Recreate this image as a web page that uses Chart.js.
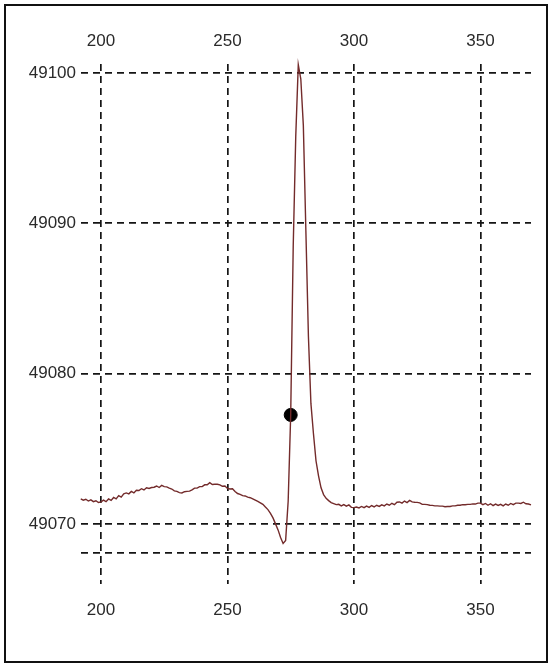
<!DOCTYPE html>
<html>
<head>
<meta charset="utf-8">
<script src="https://cdn.jsdelivr.net/npm/chart.js@4"></script>
<style>
    body { margin: 0; background: #fff; }
    #wrap { position: relative; width: 549px; height: 664px; }
    #frame { position: absolute; left: 4px; top: 4px; width: 540px; height: 655px; border: 2px solid #111; }
    canvas { position: absolute; left: 0; top: 0; }
</style>
</head>
<body>
<div id="wrap">
    <div id="frame"></div>
    <canvas id="myChart" width="549" height="664"></canvas>
</div>
<script>
// Sample positions (x) and measured values (y)
const sampleX = [
    192, 193, 194, 195, 196, 197, 198, 199, 200,
    201, 202, 203, 204, 205, 206, 207, 208, 209, 210,
    211, 212, 213, 214, 215, 216, 217, 218, 219, 220,
    221, 222, 223, 224, 225, 226, 227, 228, 229, 230,
    231, 232, 233, 234, 235, 236, 237, 238, 239, 240,
    241, 242, 243, 244, 245, 246, 247, 248, 249, 250,
    251, 252, 253, 254, 255, 256, 257, 258, 259, 260,
    261, 262, 263, 264, 265, 266, 267, 268, 269, 270,
    271, 272, 273, 274, 275, 276, 277, 278, 279, 280,
    281, 282, 283, 284, 285, 286, 287, 288, 289, 290,
    291, 292, 293, 294, 295, 296, 297, 298, 299, 300,
    301, 302, 303, 304, 305, 306, 307, 308, 309, 310,
    311, 312, 313, 314, 315, 316, 317, 318, 319, 320,
    321, 322, 323, 324, 325, 326, 327, 328, 329, 330,
    331, 332, 333, 334, 335, 336, 337, 338, 339, 340,
    341, 342, 343, 344, 345, 346, 347, 348, 349, 350,
    351, 352, 353, 354, 355, 356, 357, 358, 359, 360,
    361, 362, 363, 364, 365, 366, 367, 368, 369, 370
];
const sampleY = [
    49071.66, 49071.58, 49071.64, 49071.52, 49071.60, 49071.48, 49071.54, 49071.42, 49071.46,
    49071.58, 49071.48, 49071.66, 49071.56, 49071.76, 49071.66, 49071.88, 49071.78, 49072.00, 49072.06,
    49072.00, 49072.16, 49072.06, 49072.24, 49072.22, 49072.34, 49072.26, 49072.40, 49072.36, 49072.42,
    49072.44, 49072.52, 49072.42, 49072.56, 49072.48, 49072.46, 49072.38, 49072.32, 49072.20, 49072.16,
    49072.08, 49072.06, 49072.14, 49072.16, 49072.18, 49072.26, 49072.38, 49072.38, 49072.48, 49072.48,
    49072.60, 49072.60, 49072.74, 49072.62, 49072.64, 49072.64, 49072.60, 49072.50, 49072.52, 49072.36,
    49072.32, 49072.34, 49072.16, 49072.02, 49071.96, 49071.88, 49071.86, 49071.78, 49071.74, 49071.66,
    49071.58, 49071.50, 49071.40, 49071.30, 49071.12, 49070.95, 49070.70, 49070.40, 49070.00, 49069.60,
    49069.10, 49068.70, 49068.90, 49071.50, 49077.25, 49088.50, 49095.80, 49100.55, 49099.60, 49096.50,
    49089.50, 49082.50, 49078.00, 49076.00, 49074.20, 49073.20, 49072.40, 49071.95, 49071.70, 49071.55,
    49071.42, 49071.35, 49071.28, 49071.30, 49071.20, 49071.28, 49071.18, 49071.26, 49071.10, 49071.08,
    49071.12, 49071.06, 49071.16, 49071.08, 49071.18, 49071.10, 49071.22, 49071.13, 49071.24, 49071.16,
    49071.27, 49071.20, 49071.32, 49071.24, 49071.37, 49071.28, 49071.44, 49071.46, 49071.38, 49071.52,
    49071.42, 49071.56, 49071.46, 49071.44, 49071.43, 49071.40, 49071.30, 49071.30, 49071.28, 49071.24,
    49071.23, 49071.20, 49071.20, 49071.18, 49071.18, 49071.14, 49071.16, 49071.16, 49071.20, 49071.20,
    49071.24, 49071.24, 49071.28, 49071.27, 49071.30, 49071.30, 49071.33, 49071.32, 49071.38, 49071.38,
    49071.28, 49071.36, 49071.24, 49071.34, 49071.22, 49071.32, 49071.23, 49071.30, 49071.20, 49071.32,
    49071.24, 49071.36, 49071.28, 49071.38, 49071.38, 49071.36, 49071.44, 49071.34, 49071.32, 49071.26
];

// Highlighted point
const markerX = [275];
const markerY = [49077.25];

// Tick values
const xTicks = [200, 250, 300, 350];
const yTicks = [49068.1, 49070, 49080, 49090, 49100];
const yTickLabels = ['', '49070', '49080', '49090', '49100'];

const labelFont = { family: 'Liberation Sans, Arial, sans-serif', size: 17 };
const gridStyle = {
    color: '#151515',
    lineWidth: 1.7,
    drawTicks: false
};

const ctx = document.getElementById('myChart').getContext('2d');
const myChart = new Chart(ctx, {
    type: 'line',
    data: {
        datasets: [{
            data: sampleX.map((x, i) => ({ x: x, y: sampleY[i] })),
            borderColor: '#732b2b',
            borderWidth: 1.4,
            pointRadius: 0,
            tension: 0,
            clip: false
        }, {
            data: markerX.map((x, i) => ({ x: x, y: markerY[i] })),
            showLine: false,
            pointRadius: 6.5,
            pointBackgroundColor: '#000',
            pointBorderColor: '#000'
        }]
    },
    options: {
        responsive: false,
        animation: false,
        layout: { padding: { left: 0, right: 18, top: 0, bottom: 40 } },
        plugins: { legend: { display: false }, tooltip: { enabled: false } },
        scales: {
            x: {
                type: 'linear',
                position: 'bottom',
                min: 192.1,
                max: 370,
                border: { display: false, dash: [7, 5] },
                grid: gridStyle,
                afterBuildTicks: scale => { scale.ticks = xTicks.map(v => ({ value: v })); },
                afterFit: scale => { scale.height = 40; },
                ticks: { color: '#2a2a2a', font: labelFont, padding: 16, maxRotation: 0 }
            },
            x2: {
                type: 'linear',
                position: 'top',
                min: 192.1,
                max: 370,
                border: { display: false },
                grid: { display: false, drawTicks: false },
                afterBuildTicks: scale => { scale.ticks = xTicks.map(v => ({ value: v })); },
                afterFit: scale => { scale.height = 64; },
                ticks: { color: '#2a2a2a', font: labelFont, padding: 12, maxRotation: 0 }
            },
            y: {
                type: 'linear',
                min: 49066.0,
                max: 49100.6,
                border: { display: false, dash: [7, 5] },
                grid: gridStyle,
                afterBuildTicks: scale => { scale.ticks = yTicks.map(v => ({ value: v })); },
                afterFit: scale => { scale.width = 81; },
                ticks: {
                    color: '#2a2a2a',
                    font: labelFont,
                    padding: 5,
                    callback: (value, index) => yTickLabels[index]
                }
            }
        }
    }
});
</script>
</body>
</html>
